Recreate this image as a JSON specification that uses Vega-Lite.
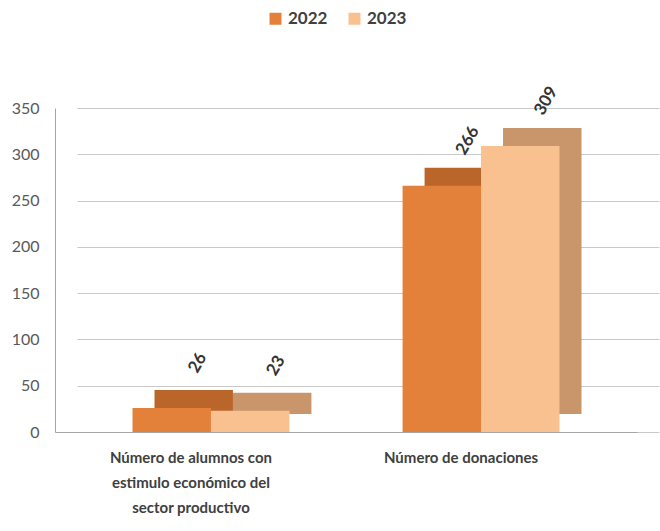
{
  "$schema": "https://vega.github.io/schema/vega-lite/v6.json",
  "width": 582,
  "height": 324,
  "autosize": {"type": "none"},
  "padding": {"left": 55, "top": 108, "right": 23, "bottom": 99},
  "config": {"font": "Lato", "view": {"stroke": null}},
  "data": {
    "values": [
      {"cat": "Número de alumnos con estimulo económico del sector productivo", "year": "2022", "value": 26},
      {"cat": "Número de alumnos con estimulo económico del sector productivo", "year": "2023", "value": 23},
      {"cat": "Número de donaciones", "year": "2022", "value": 266},
      {"cat": "Número de donaciones", "year": "2023", "value": 309}
    ]
  },
  "encoding": {
    "xOffset": {"field": "year", "type": "nominal", "scale": {"paddingInner": 0}},
    "y": {
      "field": "value",
      "type": "quantitative",
      "scale": {"domain": [0, 350]},
      "axis": {
        "title": null,
        "values": [0, 50, 100, 150, 200, 250, 300, 350],
        "ticks": false,
        "labelPadding": 16,
        "labelFontSize": 16,
        "labelColor": "#595959",
        "domainColor": "#A6A6A6",
        "gridColor": "#C8C8C8"
      }
    }
  },
  "layer": [
    {
      "mark": {"type": "bar", "yOffset": -18},
      "encoding": {
        "x": {
          "field": "cat",
          "type": "nominal",
          "sort": null,
          "scale": {"paddingInner": 0.419, "paddingOuter": 0.287, "range": [22, 604]},
          "axis": null
        },
        "color": {"field": "year", "type": "nominal", "scale": {"range": ["#BA662B", "#C9966B"]}, "legend": null}
      }
    },
    {
      "layer": [
        {
          "mark": {"type": "bar"},
          "encoding": {
            "color": {
              "field": "year",
              "type": "nominal",
              "scale": {"range": ["#E3803A", "#F9C18F"]},
              "legend": {
                "title": null,
                "orient": "none",
                "direction": "horizontal",
                "legendX": 212,
                "legendY": -98,
                "symbolType": "square",
                "symbolSize": 144,
                "symbolStrokeWidth": 0,
                "labelFontSize": 17,
                "labelFontWeight": "bold",
                "labelColor": "#404040",
                "columnPadding": 18
              }
            }
          }
        },
        {
          "mark": {"type": "text", "angle": -60, "dx": 52, "fontSize": 17, "fontWeight": "bold", "color": "#333333"},
          "encoding": {"text": {"field": "value", "type": "quantitative"}}
        }
      ],
      "encoding": {
        "x": {
          "field": "cat",
          "type": "nominal",
          "sort": null,
          "scale": {"paddingInner": 0.419, "paddingOuter": 0.287},
          "axis": {
            "title": null,
            "labelAngle": 0,
            "labelOffset": -20,
            "labelPadding": 18,
            "ticks": false,
            "labelFontSize": 15,
            "labelFontWeight": "bold",
            "labelColor": "#404040",
            "labelLimit": 400,
            "labelLineHeight": 25,
            "domainColor": "#A6A6A6",
            "labelExpr": "datum.label == 'Número de donaciones' ? datum.label : ['Número de alumnos con', 'estimulo económico del', 'sector productivo']"
          }
        }
      }
    }
  ],
  "resolve": {"scale": {"color": "independent", "x": "independent"}}
}
